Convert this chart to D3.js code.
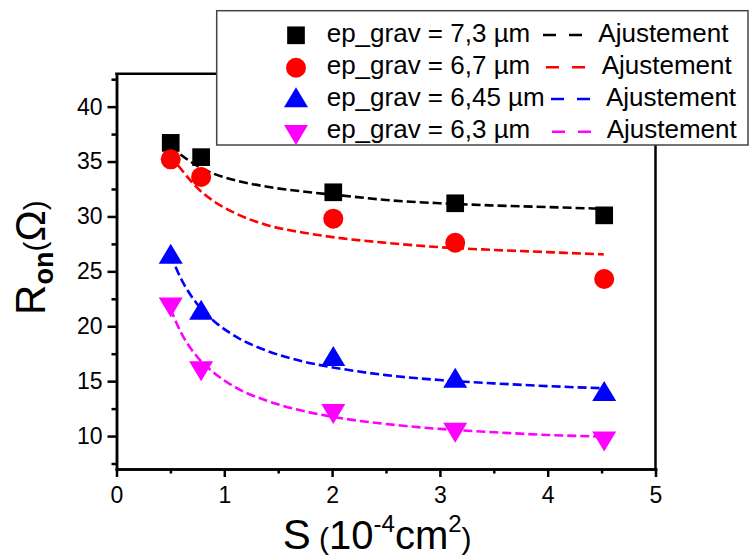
<!DOCTYPE html>
<html>
<head>
<meta charset="utf-8">
<script src="https://cdn.jsdelivr.net/npm/d3@7"></script>
<style>
  html, body { margin: 0; padding: 0; background: #fff; }
  svg { display: block; font-family: "Liberation Sans", Arial, sans-serif; }
</style>
</head>
<body>
<svg id="chart" width="750" height="557"></svg>
<script>
// ---------- data ----------
const surfaces = [0.503, 0.785, 2.011, 3.142, 4.524];           // S (10^-4 cm^2)
const seriesNames = ["ep_grav = 7,3 µm", "ep_grav = 6,7 µm", "ep_grav = 6,45 µm", "ep_grav = 6,3 µm"];
const fitLabel = "Ajustement";
const ron73  = [36.7, 35.4, 32.2, 31.2, 30.1];
const ron67  = [35.2, 33.6, 29.8, 27.6, 24.3];
const ron645 = [26.6, 21.5, 17.3, 15.3, 14.1];
const ron63  = [21.7, 15.9, 12.0, 10.3, 9.5];

// fitted curves
const fitS     = [0.5, 0.6, 0.75, 0.9, 1.1, 1.4, 1.75, 2.1, 2.5, 3.0, 3.5, 4.0, 4.52];
const fit73    = [36.4, 35.6, 34.6, 33.9, 33.3, 32.7, 32.25, 31.9, 31.5, 31.2, 31.0, 30.85, 30.7];
const fit67    = [35.6, 34.3, 32.6, 31.4, 30.3, 29.2, 28.5, 28.0, 27.6, 27.2, 26.95, 26.75, 26.55];
const fit645   = [26.5, 24.3, 22.0, 20.5, 19.1, 17.75, 16.75, 16.1, 15.55, 15.1, 14.8, 14.55, 14.35];
const fit63    = [21.6, 19.4, 17.2, 15.8, 14.45, 13.2, 12.25, 11.6, 11.1, 10.65, 10.35, 10.1, 9.95];

const xTicks = [0, 1, 2, 3, 4, 5];
const xMinor = [0.5, 1.5, 2.5, 3.5, 4.5];
const yTicks = [10, 15, 20, 25, 30, 35, 40];
const yMinor = [7.5, 12.5, 17.5, 22.5, 27.5, 32.5, 37.5, 42.5];

// ---------- setup ----------
const svg = d3.select("#chart");
const x = d3.scaleLinear().domain([0, 5]).range([116.5, 655.5]);
const y = d3.scaleLinear().domain([7, 43]).range([469, 73.7]);

const colors = ["#000000", "#ff0000", "#0000ff", "#ff00ff"];

// custom symbols
const triUp = { draw(ctx, size) { const w = Math.sqrt(size), h = w * 0.833;
  ctx.moveTo(0, -h / 2); ctx.lineTo(w / 2, h / 2); ctx.lineTo(-w / 2, h / 2); ctx.closePath(); } };
const triDown = { draw(ctx, size) { const w = Math.sqrt(size), h = w * 0.833;
  ctx.moveTo(0, h / 2); ctx.lineTo(w / 2, -h / 2); ctx.lineTo(-w / 2, -h / 2); ctx.closePath(); } };
const symTypes = [d3.symbolSquare, d3.symbolCircle, triUp, triDown];
const symSizes = [313, 314, 576, 576];

const series = [ron73, ron67, ron645, ron63].map((vals, i) => ({
  name: seriesNames[i], color: colors[i], type: symTypes[i], size: symSizes[i],
  points: surfaces.map((s, j) => ({ s, r: vals[j] })),
  fit: fitS.map((s, j) => ({ s, r: [fit73, fit67, fit645, fit63][i][j] }))
}));

// ---------- frame (top & right) ----------
svg.append("line").attr("x1", x(0)).attr("x2", x(5)).attr("y1", y(43)).attr("y2", y(43))
  .attr("stroke", "#000").attr("stroke-width", 2.5).attr("stroke-linecap", "square");
svg.append("line").attr("x1", x(5)).attr("x2", x(5)).attr("y1", y(43)).attr("y2", y(7))
  .attr("stroke", "#000").attr("stroke-width", 2.5).attr("stroke-linecap", "square");

// ---------- axes ----------
function styleAxis(g) {
  g.selectAll("path.domain").attr("stroke", "#000").attr("stroke-width", 2.5).attr("stroke-linecap", "square");
  g.selectAll(".tick line").attr("stroke", "#000").attr("stroke-width", 2.5);
  g.selectAll(".tick text").attr("fill", "#000").attr("font-size", 23)
    .attr("font-family", "'Liberation Sans', Arial, sans-serif");
}
const gxMinor = svg.append("g").attr("transform", `translate(0,${y(7)})`)
  .call(d3.axisBottom(x).tickValues(xMinor).tickSize(4.5).tickSizeOuter(0).tickFormat(""));
styleAxis(gxMinor);
const gx = svg.append("g").attr("transform", `translate(0,${y(7)})`)
  .call(d3.axisBottom(x).tickValues(xTicks).tickSize(8).tickPadding(10).tickSizeOuter(0).tickFormat(d3.format("d")));
styleAxis(gx);

const gyMinor = svg.append("g").attr("transform", `translate(${x(0)},0)`)
  .call(d3.axisLeft(y).tickValues(yMinor).tickSize(5).tickSizeOuter(0).tickFormat(""));
styleAxis(gyMinor);
const gy = svg.append("g").attr("transform", `translate(${x(0)},0)`)
  .call(d3.axisLeft(y).tickValues(yTicks).tickSize(9).tickPadding(5).tickSizeOuter(0).tickFormat(d3.format("d")));
styleAxis(gy);

// ---------- fits ----------
const line = d3.line().x(d => x(d.s)).y(d => y(d.r)).curve(d3.curveMonotoneX);
svg.append("g").selectAll("path").data(series).join("path")
  .attr("d", d => line(d.fit)).attr("fill", "none")
  .attr("stroke", d => d.color).attr("stroke-width", 2.6).attr("stroke-dasharray", "9,4");

// ---------- markers ----------
series.forEach(sr => {
  svg.append("g").selectAll("path").data(sr.points).join("path")
    .attr("transform", d => `translate(${x(d.s)},${y(d.r)})`)
    .attr("d", d3.symbol().type(sr.type).size(sr.size)())
    .attr("fill", sr.color);
});

// ---------- axis titles ----------
const xt = svg.append("text").attr("x", 282.7).attr("y", 549).attr("fill", "#000").attr("font-size", 42);
xt.append("tspan").text("S");
xt.append("tspan").attr("font-size", 30).text(" (");
xt.append("tspan").attr("font-size", 40).text("10");
xt.append("tspan").attr("font-size", 24).attr("dy", -17).text("-4");
xt.append("tspan").attr("font-size", 40).attr("dy", 17).text("cm");
xt.append("tspan").attr("font-size", 24).attr("dy", -17).text("2");
xt.append("tspan").attr("font-size", 30).attr("dy", 17).text(")");

const yt = svg.append("text").attr("transform", "translate(45,257.5) rotate(-90)")
  .attr("text-anchor", "middle").attr("fill", "#000").attr("font-size", 42);
yt.append("tspan").text("R");
yt.append("tspan").attr("font-size", 27).attr("font-weight", "bold").attr("dy", 8).text("on");
yt.append("tspan").attr("font-size", 30).attr("dy", -8).text("(");
yt.append("tspan").attr("font-size", 42).text("Ω");
yt.append("tspan").attr("font-size", 30).text(")");

// ---------- legend ----------
const lg = svg.append("g");
lg.append("rect").attr("x", 216.7).attr("y", 10.7).attr("width", 531.3).attr("height", 134.3)
  .attr("fill", "#fff").attr("stroke", "#444").attr("stroke-width", 1.5);
const legSymY = [35.3, 67.8, 97.3, 135];
const legBase = [42, 74, 106, 138];
const legLineX = [543, 546, 551, 552];
const legLineY = [35, 67.3, 99, 131.7];
const legFitX = [598.3, 601.7, 606, 606.7];
series.forEach((sr, i) => {
  lg.append("path").attr("transform", `translate(296,${legSymY[i]})`)
    .attr("d", d3.symbol().type(sr.type).size(sr.size)()).attr("fill", sr.color);
  lg.append("text").attr("x", 326.7).attr("y", legBase[i]).attr("font-size", 26).attr("fill", "#000").text(sr.name);
  lg.append("line").attr("x1", legLineX[i]).attr("x2", legLineX[i] + 39).attr("y1", legLineY[i]).attr("y2", legLineY[i])
    .attr("stroke", sr.color).attr("stroke-width", 2.6).attr("stroke-dasharray", "13,13");
  lg.append("text").attr("x", legFitX[i]).attr("y", legBase[i]).attr("font-size", 26).attr("fill", "#000").text(fitLabel);
});
</script>
</body>
</html>
